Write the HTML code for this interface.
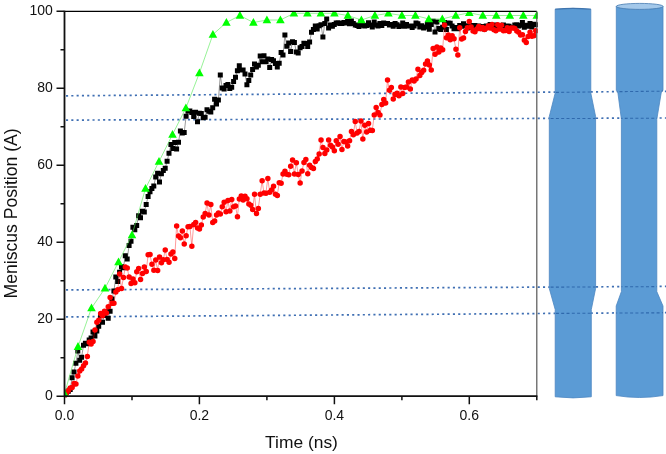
<!DOCTYPE html>
<html><head><meta charset="utf-8"><title>Meniscus Position vs Time</title>
<style>
html,body{margin:0;padding:0;background:#fff;}
body{width:666px;height:454px;overflow:hidden;font-family:"Liberation Sans",sans-serif;}
svg{display:block}
svg text{font-family:"Liberation Sans",sans-serif;fill:#111;}
</style></head><body>
<svg width="666" height="454" viewBox="0 0 666 454">
<defs><clipPath id="pc"><rect x="64.5" y="11.3" width="473.3" height="385.9"/></clipPath><clipPath id="tc"><path d="M555.2 9V93L549.3 116.5V288.5L555.2 309.5V397H591.3V309.5L595.6 288.5V116.5L590.8 93V9Z"/><path d="M616.3 6.4V90.5L621.4 119.3V291.6L616.2 306V397H663V306L656.8 291.6V119.3L663 90.5V6.4Z"/></clipPath></defs>
<rect width="666" height="454" fill="#fff"/>
<!-- dotted guide lines -->
<g fill="none" stroke="#3f6fb3" stroke-width="1.7" stroke-dasharray="2.1 3.2">
<path d="M66 95.8L666 91.3"/>
<path d="M66 120.1L666 118"/>
<path d="M66 289.9L666 286.4"/>
<path d="M66 316.9L666 312.6"/>
</g>
<!-- tubes -->
<g fill="#5b9bd5" stroke="#4d86c2" stroke-width="0.8" stroke-linejoin="round">
<path id="tubeA" d="M555.2 9.2Q573 7.6 590.8 9.2V93L595.6 116.5V288.5L591.3 309.5V396.8Q573 399 555.2 396.8V309.5L549.3 288.5V116.5L555.2 93Z"/>
<path id="tubeB" d="M616.3 6.4V90.5H617.6L621.4 119.3V291.6L616.2 306V395.6Q639.6 399.4 663 395.6V306L656.8 291.6V119.3L661.6 90.5H663V6.4Z"/>
<ellipse cx="639.7" cy="6.4" rx="23.4" ry="3" fill="#a3c8ea" stroke="#4278b0"/>
<path d="M555.2 9.2Q573 7.6 590.8 9.2" fill="none" stroke="#3f74ad" stroke-width="1.1"/>
</g>
<g fill="none" stroke="#2f69ad" stroke-width="1.1" stroke-dasharray="3 2.3" clip-path="url(#tc)">
<path d="M540 92.6L666 91.1"/>
<path d="M540 118.6L666 118.2"/>
<path d="M540 287.2L666 286.6"/>
<path d="M540 313.5L666 312.8"/>
</g>
<!-- data -->
<g clip-path="url(#pc)">
<polyline fill="none" stroke="#000" stroke-width="0.4" points="64.5,396 66.4,392.2 68.3,391.3 70.2,389.4 72.1,377.7 74,372 75.9,363.3 77.8,350.9 79.7,360.3 81.6,357.2 83.5,345.3 85.4,343.3 87.3,343.8 89.2,339.9 91.1,338 93,332.1 94.9,335.9 96.8,331.1 98.7,326.3 100.6,315.5 102.5,322.2 104.4,315.4 106.3,311.7 108.2,318.2 110.1,311.2 112,299.1 113.9,290.9 115.8,277 117.7,281.6 119.6,272.3 121.5,266.8 123.4,267.7 125.3,255.8 127.2,259 129.1,245.4 131,241.3 132.9,227.2 134.8,229.7 136.7,225.6 138.6,215.8 140.5,217.8 142.4,211.3 144.3,212 146.2,204.4 148.1,196.5 150,191.8 151.9,188.6 153.8,185.9 155.7,177.1 157.6,173.2 159.5,182.1 161.4,173.8 163.3,170.4 165.2,168.2 167.1,161.3 169,153.3 170.9,144.4 172.8,148.6 174.7,142.6 176.6,148.9 178.5,142.2 180.4,131 182.3,133.1 184.2,132.6 186.1,116.3 188,111 189.9,110.9 191.8,112.5 193.7,116.6 195.6,112.2 197.5,121.7 199.4,113.3 201.3,113.6 203.2,117.7 205.1,117.2 207,109.7 208.9,111.2 210.8,112.1 212.7,107.7 214.6,99.3 216.5,104.1 218.4,100.1 220.3,75 222.2,88.1 224.1,89.1 226,85.6 227.9,84.5 229.8,88.5 231.7,87.2 233.6,81.4 235.5,77.3 237.4,70.8 239.3,65.8 241.2,69.9 243.1,70.1 245,74 246.9,84.7 248.8,80.6 250.7,74.9 252.6,69.6 254.5,64 256.4,67.1 258.3,65.3 260.2,56 262.1,61.8 264,55.7 265.9,61.8 267.8,58.9 269.7,67.5 271.6,59.6 273.5,60.7 275.4,63.5 277.3,67 279.2,63.2 281.1,52.6 283,55.1 284.9,35 286.8,46.3 288.7,43 290.6,51.4 292.5,41.7 294.4,42.4 296.3,52.1 298.2,53 300.1,47.7 302,46.5 303.9,43.3 305.8,43.4 307.7,46.4 309.6,42.1 311.5,32.2 313.4,29.5 315.3,26 317.2,29 319.1,25.8 321,24.7 322.9,37 324.8,23.5 326.7,19 328.6,27.9 330.5,24.9 332.4,26.3 334.3,24.4 336.2,23.1 338.1,22.7 340,23.5 341.9,23.6 343.8,22.4 345.7,23.1 347.6,21.3 349.5,23.7 351.4,21 353.3,23.5 355.2,24.9 357.1,25.5 359,26.5 360.9,21.7 362.8,25.2 364.7,25.9 366.6,25.6 368.5,22.8 370.4,24.9 372.3,27.1 374.2,22.1 376.1,25.1 378,26.1 379.9,23.5 381.8,25.4 383.7,23 385.6,23.4 387.5,23.5 389.4,25 391.3,24.6 393.2,26.3 395.1,23.5 397,24.7 398.9,26.4 400.8,25.9 402.7,23.1 404.6,26.2 406.5,24.6 408.4,26 410.3,26 412.2,27.4 414.1,25.9 416,23 417.9,23.8 419.8,27.1 421.7,25.7 423.6,27.9 425.5,27 427.4,24.4 429.3,29.3 431.2,24.5 433.1,21.3 435,32.1 436.9,21.9 438.8,28.6 440.7,29.4 442.6,27.3 444.5,22.5 446.4,29.5 448.3,23.1 450.2,23.3 452.1,25.9 454,28.8 455.9,27.5 457.8,28.8 459.7,25.5 461.6,26.2 463.5,23.7 465.4,25.8 467.3,28.1 469.2,25.7 471.1,27.2 473,25.6 474.9,25.5 476.8,26.4 478.7,26.1 480.6,27.2 482.5,26.6 484.4,28.9 486.3,25.9 488.2,25.9 490.1,24.6 492,26.2 493.9,27.1 495.8,25 497.7,26 499.6,27.1 501.5,25.8 503.4,25.1 505.3,27.3 507.2,25.9 509.1,26.3 511,27.5 512.9,27.4 514.8,25.1 516.7,24.7 518.6,25.9 520.5,25.2 522.4,22.5 524.3,27.2 526.2,25.3 528.1,26.3 530,23.4 531.9,27 533.8,24.2 535.7,24.8"/>
<path fill="#000" d="M62 393.5h5v5h-5zM63.9 389.7h5v5h-5zM65.8 388.8h5v5h-5zM67.7 386.9h5v5h-5zM69.6 375.2h5v5h-5zM71.5 369.5h5v5h-5zM73.4 360.8h5v5h-5zM75.3 348.4h5v5h-5zM77.2 357.8h5v5h-5zM79.1 354.7h5v5h-5zM81 342.8h5v5h-5zM82.9 340.8h5v5h-5zM84.8 341.3h5v5h-5zM86.7 337.4h5v5h-5zM88.6 335.5h5v5h-5zM90.5 329.6h5v5h-5zM92.4 333.4h5v5h-5zM94.3 328.6h5v5h-5zM96.2 323.8h5v5h-5zM98.1 313h5v5h-5zM100 319.7h5v5h-5zM101.9 312.9h5v5h-5zM103.8 309.2h5v5h-5zM105.7 315.7h5v5h-5zM107.6 308.7h5v5h-5zM109.5 296.6h5v5h-5zM111.4 288.4h5v5h-5zM113.3 274.5h5v5h-5zM115.2 279.1h5v5h-5zM117.1 269.8h5v5h-5zM119 264.3h5v5h-5zM120.9 265.2h5v5h-5zM122.8 253.3h5v5h-5zM124.7 256.5h5v5h-5zM126.6 242.9h5v5h-5zM128.5 238.8h5v5h-5zM130.4 224.7h5v5h-5zM132.3 227.2h5v5h-5zM134.2 223.1h5v5h-5zM136.1 213.3h5v5h-5zM138 215.3h5v5h-5zM139.9 208.8h5v5h-5zM141.8 209.5h5v5h-5zM143.7 201.9h5v5h-5zM145.6 194h5v5h-5zM147.5 189.3h5v5h-5zM149.4 186.1h5v5h-5zM151.3 183.4h5v5h-5zM153.2 174.6h5v5h-5zM155.1 170.7h5v5h-5zM157 179.6h5v5h-5zM158.9 171.3h5v5h-5zM160.8 167.9h5v5h-5zM162.7 165.7h5v5h-5zM164.6 158.8h5v5h-5zM166.5 150.8h5v5h-5zM168.4 141.9h5v5h-5zM170.3 146.1h5v5h-5zM172.2 140.1h5v5h-5zM174.1 146.4h5v5h-5zM176 139.7h5v5h-5zM177.9 128.5h5v5h-5zM179.8 130.6h5v5h-5zM181.7 130.1h5v5h-5zM183.6 113.8h5v5h-5zM185.5 108.5h5v5h-5zM187.4 108.4h5v5h-5zM189.3 110h5v5h-5zM191.2 114.1h5v5h-5zM193.1 109.7h5v5h-5zM195 119.2h5v5h-5zM196.9 110.8h5v5h-5zM198.8 111.1h5v5h-5zM200.7 115.2h5v5h-5zM202.6 114.7h5v5h-5zM204.5 107.2h5v5h-5zM206.4 108.7h5v5h-5zM208.3 109.6h5v5h-5zM210.2 105.2h5v5h-5zM212.1 96.8h5v5h-5zM214 101.6h5v5h-5zM215.9 97.6h5v5h-5zM217.8 72.5h5v5h-5zM219.7 85.6h5v5h-5zM221.6 86.6h5v5h-5zM223.5 83.1h5v5h-5zM225.4 82h5v5h-5zM227.3 86h5v5h-5zM229.2 84.7h5v5h-5zM231.1 78.9h5v5h-5zM233 74.8h5v5h-5zM234.9 68.3h5v5h-5zM236.8 63.3h5v5h-5zM238.7 67.4h5v5h-5zM240.6 67.6h5v5h-5zM242.5 71.5h5v5h-5zM244.4 82.2h5v5h-5zM246.3 78.1h5v5h-5zM248.2 72.4h5v5h-5zM250.1 67.1h5v5h-5zM252 61.5h5v5h-5zM253.9 64.6h5v5h-5zM255.8 62.8h5v5h-5zM257.7 53.5h5v5h-5zM259.6 59.3h5v5h-5zM261.5 53.2h5v5h-5zM263.4 59.3h5v5h-5zM265.3 56.4h5v5h-5zM267.2 65h5v5h-5zM269.1 57.1h5v5h-5zM271 58.2h5v5h-5zM272.9 61h5v5h-5zM274.8 64.5h5v5h-5zM276.7 60.7h5v5h-5zM278.6 50.1h5v5h-5zM280.5 52.6h5v5h-5zM282.4 32.5h5v5h-5zM284.3 43.8h5v5h-5zM286.2 40.5h5v5h-5zM288.1 48.9h5v5h-5zM290 39.2h5v5h-5zM291.9 39.9h5v5h-5zM293.8 49.6h5v5h-5zM295.7 50.5h5v5h-5zM297.6 45.2h5v5h-5zM299.5 44h5v5h-5zM301.4 40.8h5v5h-5zM303.3 40.9h5v5h-5zM305.2 43.9h5v5h-5zM307.1 39.6h5v5h-5zM309 29.7h5v5h-5zM310.9 27h5v5h-5zM312.8 23.5h5v5h-5zM314.7 26.5h5v5h-5zM316.6 23.3h5v5h-5zM318.5 22.2h5v5h-5zM320.4 34.5h5v5h-5zM322.3 21h5v5h-5zM324.2 16.5h5v5h-5zM326.1 25.4h5v5h-5zM328 22.4h5v5h-5zM329.9 23.8h5v5h-5zM331.8 21.9h5v5h-5zM333.7 20.6h5v5h-5zM335.6 20.2h5v5h-5zM337.5 21h5v5h-5zM339.4 21.1h5v5h-5zM341.3 19.9h5v5h-5zM343.2 20.6h5v5h-5zM345.1 18.8h5v5h-5zM347 21.2h5v5h-5zM348.9 18.5h5v5h-5zM350.8 21h5v5h-5zM352.7 22.4h5v5h-5zM354.6 23h5v5h-5zM356.5 24h5v5h-5zM358.4 19.2h5v5h-5zM360.3 22.7h5v5h-5zM362.2 23.4h5v5h-5zM364.1 23.1h5v5h-5zM366 20.3h5v5h-5zM367.9 22.4h5v5h-5zM369.8 24.6h5v5h-5zM371.7 19.6h5v5h-5zM373.6 22.6h5v5h-5zM375.5 23.6h5v5h-5zM377.4 21h5v5h-5zM379.3 22.9h5v5h-5zM381.2 20.5h5v5h-5zM383.1 20.9h5v5h-5zM385 21h5v5h-5zM386.9 22.5h5v5h-5zM388.8 22.1h5v5h-5zM390.7 23.8h5v5h-5zM392.6 21h5v5h-5zM394.5 22.2h5v5h-5zM396.4 23.9h5v5h-5zM398.3 23.4h5v5h-5zM400.2 20.6h5v5h-5zM402.1 23.7h5v5h-5zM404 22.1h5v5h-5zM405.9 23.5h5v5h-5zM407.8 23.5h5v5h-5zM409.7 24.9h5v5h-5zM411.6 23.4h5v5h-5zM413.5 20.5h5v5h-5zM415.4 21.3h5v5h-5zM417.3 24.6h5v5h-5zM419.2 23.2h5v5h-5zM421.1 25.4h5v5h-5zM423 24.5h5v5h-5zM424.9 21.9h5v5h-5zM426.8 26.8h5v5h-5zM428.7 22h5v5h-5zM430.6 18.8h5v5h-5zM432.5 29.6h5v5h-5zM434.4 19.4h5v5h-5zM436.3 26.1h5v5h-5zM438.2 26.9h5v5h-5zM440.1 24.8h5v5h-5zM442 20h5v5h-5zM443.9 27h5v5h-5zM445.8 20.6h5v5h-5zM447.7 20.8h5v5h-5zM449.6 23.4h5v5h-5zM451.5 26.3h5v5h-5zM453.4 25h5v5h-5zM455.3 26.3h5v5h-5zM457.2 23h5v5h-5zM459.1 23.7h5v5h-5zM461 21.2h5v5h-5zM462.9 23.3h5v5h-5zM464.8 25.6h5v5h-5zM466.7 23.2h5v5h-5zM468.6 24.7h5v5h-5zM470.5 23.1h5v5h-5zM472.4 23h5v5h-5zM474.3 23.9h5v5h-5zM476.2 23.6h5v5h-5zM478.1 24.7h5v5h-5zM480 24.1h5v5h-5zM481.9 26.4h5v5h-5zM483.8 23.4h5v5h-5zM485.7 23.4h5v5h-5zM487.6 22.1h5v5h-5zM489.5 23.7h5v5h-5zM491.4 24.6h5v5h-5zM493.3 22.5h5v5h-5zM495.2 23.5h5v5h-5zM497.1 24.6h5v5h-5zM499 23.3h5v5h-5zM500.9 22.6h5v5h-5zM502.8 24.8h5v5h-5zM504.7 23.4h5v5h-5zM506.6 23.8h5v5h-5zM508.5 25h5v5h-5zM510.4 24.9h5v5h-5zM512.3 22.6h5v5h-5zM514.2 22.2h5v5h-5zM516.1 23.4h5v5h-5zM518 22.7h5v5h-5zM519.9 20h5v5h-5zM521.8 24.7h5v5h-5zM523.7 22.8h5v5h-5zM525.6 23.8h5v5h-5zM527.5 20.9h5v5h-5zM529.4 24.5h5v5h-5zM531.3 21.7h5v5h-5zM533.2 22.3h5v5h-5z"/>
<polyline fill="none" stroke="#f00" stroke-width="0.4" points="64.5,396 66.4,393 68.3,390.4 70.2,388.1 72.1,387.6 74,383.6 75.9,384 77.8,375.9 79.7,371 81.6,369.1 83.5,365.7 85.4,362.9 87.3,356.6 89.2,342.2 91.1,344 93,341.6 94.9,330.1 96.8,322.2 98.7,320.3 100.6,313.6 102.5,315.7 104.4,311.3 106.3,313 108.2,306.7 110.1,297.5 112,303.3 113.9,303.2 115.8,292 117.7,289.8 119.6,273.9 121.5,288.6 123.4,277.5 125.3,267.1 127.2,267.9 129.1,277 131,283.4 132.9,278.9 134.8,282.8 136.7,271.7 138.6,268.4 140.5,279.4 142.4,273.6 144.3,267.1 146.2,271.5 148.1,254.7 150,254.5 151.9,264.3 153.8,270.3 155.7,260.1 157.6,270.4 159.5,256.9 161.4,262.8 163.3,259.7 165.2,249.9 167.1,259.6 169,262.3 170.9,254 172.8,252.1 174.7,258.5 176.6,226 178.5,236.1 180.4,237.8 182.3,231.1 184.2,243.9 186.1,235.8 188,226.8 189.9,226.4 191.8,246.3 193.7,224.5 195.6,222.6 197.5,228.1 199.4,228.9 201.3,225.1 203.2,217.1 205.1,213.6 207,203 208.9,215.1 210.8,204.6 212.7,222.4 214.6,221 216.5,215.1 218.4,213 220.3,214.1 222.2,206.8 224.1,202.3 226,211.7 227.9,200.6 229.8,210.9 231.7,199.4 233.6,206.8 235.5,206 237.4,216.7 239.3,198.9 241.2,196 243.1,199.9 245,196.3 246.9,198.7 248.8,204 250.7,205.3 252.6,209.6 254.5,194.2 256.4,213.4 258.3,208.5 260.2,194.3 262.1,180.8 264,193 265.9,193.2 267.8,178.5 269.7,192.3 271.6,190.1 273.5,186.2 275.4,194.2 277.3,195.4 279.2,182.7 281.1,183.2 283,174.1 284.9,171.2 286.8,174.3 288.7,174.8 290.6,166.2 292.5,160 294.4,173.9 296.3,162.7 298.2,174.6 300.1,183.1 302,170.9 303.9,162.4 305.8,159.4 307.7,173.7 309.6,165.2 311.5,167.4 313.4,168.6 315.3,161.6 317.2,158.9 319.1,154 321,140.1 322.9,147.5 324.8,153.4 326.7,149.9 328.6,140 330.5,145.2 332.4,147 334.3,150.7 336.2,140.7 338.1,144.3 340,136.4 341.9,149.5 343.8,141.6 345.7,141.9 347.6,145.9 349.5,140.8 351.4,131.6 353.3,134.8 355.2,121.6 357.1,133 359,131.4 360.9,121.1 362.8,139 364.7,125.2 366.6,131.9 368.5,123.5 370.4,130.3 372.3,130.5 374.2,114.9 376.1,107.4 378,112.5 379.9,115 381.8,104.4 383.7,99.6 385.6,102.9 387.5,80.1 389.4,90.3 391.3,87.4 393.2,98.9 395.1,94.2 397,93.3 398.9,95.8 400.8,87 402.7,93.6 404.6,87.5 406.5,87 408.4,82.1 410.3,89 412.2,80 414.1,81 416,78.9 417.9,69.3 419.8,75.6 421.7,72.4 423.6,70.3 425.5,64.1 427.4,61 429.3,64.9 431.2,70 433.1,48.6 435,54.2 436.9,46.9 438.8,51.9 440.7,47.9 442.6,49.8 444.5,25.1 446.4,37.8 448.3,35 450.2,39.8 452.1,35.8 454,38.8 455.9,49.3 457.8,55 459.7,27.7 461.6,38.9 463.5,38.1 465.4,31.5 467.3,27.8 469.2,21.5 471.1,27 473,31.1 474.9,31.8 476.8,29.1 478.7,26.5 480.6,28.7 482.5,27.6 484.4,29.5 486.3,28.2 488.2,26.1 490.1,28 492,24.5 493.9,29.8 495.8,30.8 497.7,24.7 499.6,28.9 501.5,25.3 503.4,30.7 505.3,30.4 507.2,27.8 509.1,31.4 511,28.1 512.9,27.9 514.8,28.5 516.7,31.1 518.6,32.2 520.5,35 522.4,34.8 524.3,40.3 526.2,42.5 528.1,36.6 530,32.3 531.9,36.2 533.8,35.7 535.7,30.8"/>
<path fill="#f00" d="M61.8 396a2.75 2.75 0 1 0 5.5 0a2.75 2.75 0 1 0 -5.5 0zM63.7 393a2.75 2.75 0 1 0 5.5 0a2.75 2.75 0 1 0 -5.5 0zM65.6 390.4a2.75 2.75 0 1 0 5.5 0a2.75 2.75 0 1 0 -5.5 0zM67.5 388.1a2.75 2.75 0 1 0 5.5 0a2.75 2.75 0 1 0 -5.5 0zM69.4 387.6a2.75 2.75 0 1 0 5.5 0a2.75 2.75 0 1 0 -5.5 0zM71.3 383.6a2.75 2.75 0 1 0 5.5 0a2.75 2.75 0 1 0 -5.5 0zM73.2 384a2.75 2.75 0 1 0 5.5 0a2.75 2.75 0 1 0 -5.5 0zM75.1 375.9a2.75 2.75 0 1 0 5.5 0a2.75 2.75 0 1 0 -5.5 0zM77 371a2.75 2.75 0 1 0 5.5 0a2.75 2.75 0 1 0 -5.5 0zM78.9 369.1a2.75 2.75 0 1 0 5.5 0a2.75 2.75 0 1 0 -5.5 0zM80.8 365.7a2.75 2.75 0 1 0 5.5 0a2.75 2.75 0 1 0 -5.5 0zM82.7 362.9a2.75 2.75 0 1 0 5.5 0a2.75 2.75 0 1 0 -5.5 0zM84.6 356.6a2.75 2.75 0 1 0 5.5 0a2.75 2.75 0 1 0 -5.5 0zM86.5 342.2a2.75 2.75 0 1 0 5.5 0a2.75 2.75 0 1 0 -5.5 0zM88.4 344a2.75 2.75 0 1 0 5.5 0a2.75 2.75 0 1 0 -5.5 0zM90.3 341.6a2.75 2.75 0 1 0 5.5 0a2.75 2.75 0 1 0 -5.5 0zM92.2 330.1a2.75 2.75 0 1 0 5.5 0a2.75 2.75 0 1 0 -5.5 0zM94.1 322.2a2.75 2.75 0 1 0 5.5 0a2.75 2.75 0 1 0 -5.5 0zM96 320.3a2.75 2.75 0 1 0 5.5 0a2.75 2.75 0 1 0 -5.5 0zM97.9 313.6a2.75 2.75 0 1 0 5.5 0a2.75 2.75 0 1 0 -5.5 0zM99.8 315.7a2.75 2.75 0 1 0 5.5 0a2.75 2.75 0 1 0 -5.5 0zM101.7 311.3a2.75 2.75 0 1 0 5.5 0a2.75 2.75 0 1 0 -5.5 0zM103.6 313a2.75 2.75 0 1 0 5.5 0a2.75 2.75 0 1 0 -5.5 0zM105.5 306.7a2.75 2.75 0 1 0 5.5 0a2.75 2.75 0 1 0 -5.5 0zM107.4 297.5a2.75 2.75 0 1 0 5.5 0a2.75 2.75 0 1 0 -5.5 0zM109.3 303.3a2.75 2.75 0 1 0 5.5 0a2.75 2.75 0 1 0 -5.5 0zM111.2 303.2a2.75 2.75 0 1 0 5.5 0a2.75 2.75 0 1 0 -5.5 0zM113.1 292a2.75 2.75 0 1 0 5.5 0a2.75 2.75 0 1 0 -5.5 0zM115 289.8a2.75 2.75 0 1 0 5.5 0a2.75 2.75 0 1 0 -5.5 0zM116.9 273.9a2.75 2.75 0 1 0 5.5 0a2.75 2.75 0 1 0 -5.5 0zM118.8 288.6a2.75 2.75 0 1 0 5.5 0a2.75 2.75 0 1 0 -5.5 0zM120.7 277.5a2.75 2.75 0 1 0 5.5 0a2.75 2.75 0 1 0 -5.5 0zM122.6 267.1a2.75 2.75 0 1 0 5.5 0a2.75 2.75 0 1 0 -5.5 0zM124.5 267.9a2.75 2.75 0 1 0 5.5 0a2.75 2.75 0 1 0 -5.5 0zM126.4 277a2.75 2.75 0 1 0 5.5 0a2.75 2.75 0 1 0 -5.5 0zM128.3 283.4a2.75 2.75 0 1 0 5.5 0a2.75 2.75 0 1 0 -5.5 0zM130.2 278.9a2.75 2.75 0 1 0 5.5 0a2.75 2.75 0 1 0 -5.5 0zM132.1 282.8a2.75 2.75 0 1 0 5.5 0a2.75 2.75 0 1 0 -5.5 0zM134 271.7a2.75 2.75 0 1 0 5.5 0a2.75 2.75 0 1 0 -5.5 0zM135.9 268.4a2.75 2.75 0 1 0 5.5 0a2.75 2.75 0 1 0 -5.5 0zM137.8 279.4a2.75 2.75 0 1 0 5.5 0a2.75 2.75 0 1 0 -5.5 0zM139.7 273.6a2.75 2.75 0 1 0 5.5 0a2.75 2.75 0 1 0 -5.5 0zM141.6 267.1a2.75 2.75 0 1 0 5.5 0a2.75 2.75 0 1 0 -5.5 0zM143.5 271.5a2.75 2.75 0 1 0 5.5 0a2.75 2.75 0 1 0 -5.5 0zM145.4 254.7a2.75 2.75 0 1 0 5.5 0a2.75 2.75 0 1 0 -5.5 0zM147.3 254.5a2.75 2.75 0 1 0 5.5 0a2.75 2.75 0 1 0 -5.5 0zM149.2 264.3a2.75 2.75 0 1 0 5.5 0a2.75 2.75 0 1 0 -5.5 0zM151.1 270.3a2.75 2.75 0 1 0 5.5 0a2.75 2.75 0 1 0 -5.5 0zM153 260.1a2.75 2.75 0 1 0 5.5 0a2.75 2.75 0 1 0 -5.5 0zM154.9 270.4a2.75 2.75 0 1 0 5.5 0a2.75 2.75 0 1 0 -5.5 0zM156.8 256.9a2.75 2.75 0 1 0 5.5 0a2.75 2.75 0 1 0 -5.5 0zM158.7 262.8a2.75 2.75 0 1 0 5.5 0a2.75 2.75 0 1 0 -5.5 0zM160.6 259.7a2.75 2.75 0 1 0 5.5 0a2.75 2.75 0 1 0 -5.5 0zM162.5 249.9a2.75 2.75 0 1 0 5.5 0a2.75 2.75 0 1 0 -5.5 0zM164.4 259.6a2.75 2.75 0 1 0 5.5 0a2.75 2.75 0 1 0 -5.5 0zM166.3 262.3a2.75 2.75 0 1 0 5.5 0a2.75 2.75 0 1 0 -5.5 0zM168.2 254a2.75 2.75 0 1 0 5.5 0a2.75 2.75 0 1 0 -5.5 0zM170.1 252.1a2.75 2.75 0 1 0 5.5 0a2.75 2.75 0 1 0 -5.5 0zM172 258.5a2.75 2.75 0 1 0 5.5 0a2.75 2.75 0 1 0 -5.5 0zM173.9 226a2.75 2.75 0 1 0 5.5 0a2.75 2.75 0 1 0 -5.5 0zM175.8 236.1a2.75 2.75 0 1 0 5.5 0a2.75 2.75 0 1 0 -5.5 0zM177.7 237.8a2.75 2.75 0 1 0 5.5 0a2.75 2.75 0 1 0 -5.5 0zM179.6 231.1a2.75 2.75 0 1 0 5.5 0a2.75 2.75 0 1 0 -5.5 0zM181.5 243.9a2.75 2.75 0 1 0 5.5 0a2.75 2.75 0 1 0 -5.5 0zM183.4 235.8a2.75 2.75 0 1 0 5.5 0a2.75 2.75 0 1 0 -5.5 0zM185.3 226.8a2.75 2.75 0 1 0 5.5 0a2.75 2.75 0 1 0 -5.5 0zM187.2 226.4a2.75 2.75 0 1 0 5.5 0a2.75 2.75 0 1 0 -5.5 0zM189.1 246.3a2.75 2.75 0 1 0 5.5 0a2.75 2.75 0 1 0 -5.5 0zM191 224.5a2.75 2.75 0 1 0 5.5 0a2.75 2.75 0 1 0 -5.5 0zM192.9 222.6a2.75 2.75 0 1 0 5.5 0a2.75 2.75 0 1 0 -5.5 0zM194.8 228.1a2.75 2.75 0 1 0 5.5 0a2.75 2.75 0 1 0 -5.5 0zM196.7 228.9a2.75 2.75 0 1 0 5.5 0a2.75 2.75 0 1 0 -5.5 0zM198.6 225.1a2.75 2.75 0 1 0 5.5 0a2.75 2.75 0 1 0 -5.5 0zM200.5 217.1a2.75 2.75 0 1 0 5.5 0a2.75 2.75 0 1 0 -5.5 0zM202.4 213.6a2.75 2.75 0 1 0 5.5 0a2.75 2.75 0 1 0 -5.5 0zM204.3 203a2.75 2.75 0 1 0 5.5 0a2.75 2.75 0 1 0 -5.5 0zM206.2 215.1a2.75 2.75 0 1 0 5.5 0a2.75 2.75 0 1 0 -5.5 0zM208.1 204.6a2.75 2.75 0 1 0 5.5 0a2.75 2.75 0 1 0 -5.5 0zM210 222.4a2.75 2.75 0 1 0 5.5 0a2.75 2.75 0 1 0 -5.5 0zM211.9 221a2.75 2.75 0 1 0 5.5 0a2.75 2.75 0 1 0 -5.5 0zM213.8 215.1a2.75 2.75 0 1 0 5.5 0a2.75 2.75 0 1 0 -5.5 0zM215.7 213a2.75 2.75 0 1 0 5.5 0a2.75 2.75 0 1 0 -5.5 0zM217.6 214.1a2.75 2.75 0 1 0 5.5 0a2.75 2.75 0 1 0 -5.5 0zM219.5 206.8a2.75 2.75 0 1 0 5.5 0a2.75 2.75 0 1 0 -5.5 0zM221.4 202.3a2.75 2.75 0 1 0 5.5 0a2.75 2.75 0 1 0 -5.5 0zM223.3 211.7a2.75 2.75 0 1 0 5.5 0a2.75 2.75 0 1 0 -5.5 0zM225.2 200.6a2.75 2.75 0 1 0 5.5 0a2.75 2.75 0 1 0 -5.5 0zM227.1 210.9a2.75 2.75 0 1 0 5.5 0a2.75 2.75 0 1 0 -5.5 0zM229 199.4a2.75 2.75 0 1 0 5.5 0a2.75 2.75 0 1 0 -5.5 0zM230.9 206.8a2.75 2.75 0 1 0 5.5 0a2.75 2.75 0 1 0 -5.5 0zM232.8 206a2.75 2.75 0 1 0 5.5 0a2.75 2.75 0 1 0 -5.5 0zM234.7 216.7a2.75 2.75 0 1 0 5.5 0a2.75 2.75 0 1 0 -5.5 0zM236.6 198.9a2.75 2.75 0 1 0 5.5 0a2.75 2.75 0 1 0 -5.5 0zM238.5 196a2.75 2.75 0 1 0 5.5 0a2.75 2.75 0 1 0 -5.5 0zM240.4 199.9a2.75 2.75 0 1 0 5.5 0a2.75 2.75 0 1 0 -5.5 0zM242.3 196.3a2.75 2.75 0 1 0 5.5 0a2.75 2.75 0 1 0 -5.5 0zM244.2 198.7a2.75 2.75 0 1 0 5.5 0a2.75 2.75 0 1 0 -5.5 0zM246.1 204a2.75 2.75 0 1 0 5.5 0a2.75 2.75 0 1 0 -5.5 0zM248 205.3a2.75 2.75 0 1 0 5.5 0a2.75 2.75 0 1 0 -5.5 0zM249.9 209.6a2.75 2.75 0 1 0 5.5 0a2.75 2.75 0 1 0 -5.5 0zM251.8 194.2a2.75 2.75 0 1 0 5.5 0a2.75 2.75 0 1 0 -5.5 0zM253.7 213.4a2.75 2.75 0 1 0 5.5 0a2.75 2.75 0 1 0 -5.5 0zM255.6 208.5a2.75 2.75 0 1 0 5.5 0a2.75 2.75 0 1 0 -5.5 0zM257.5 194.3a2.75 2.75 0 1 0 5.5 0a2.75 2.75 0 1 0 -5.5 0zM259.4 180.8a2.75 2.75 0 1 0 5.5 0a2.75 2.75 0 1 0 -5.5 0zM261.3 193a2.75 2.75 0 1 0 5.5 0a2.75 2.75 0 1 0 -5.5 0zM263.2 193.2a2.75 2.75 0 1 0 5.5 0a2.75 2.75 0 1 0 -5.5 0zM265.1 178.5a2.75 2.75 0 1 0 5.5 0a2.75 2.75 0 1 0 -5.5 0zM267 192.3a2.75 2.75 0 1 0 5.5 0a2.75 2.75 0 1 0 -5.5 0zM268.9 190.1a2.75 2.75 0 1 0 5.5 0a2.75 2.75 0 1 0 -5.5 0zM270.8 186.2a2.75 2.75 0 1 0 5.5 0a2.75 2.75 0 1 0 -5.5 0zM272.7 194.2a2.75 2.75 0 1 0 5.5 0a2.75 2.75 0 1 0 -5.5 0zM274.6 195.4a2.75 2.75 0 1 0 5.5 0a2.75 2.75 0 1 0 -5.5 0zM276.5 182.7a2.75 2.75 0 1 0 5.5 0a2.75 2.75 0 1 0 -5.5 0zM278.4 183.2a2.75 2.75 0 1 0 5.5 0a2.75 2.75 0 1 0 -5.5 0zM280.3 174.1a2.75 2.75 0 1 0 5.5 0a2.75 2.75 0 1 0 -5.5 0zM282.2 171.2a2.75 2.75 0 1 0 5.5 0a2.75 2.75 0 1 0 -5.5 0zM284.1 174.3a2.75 2.75 0 1 0 5.5 0a2.75 2.75 0 1 0 -5.5 0zM286 174.8a2.75 2.75 0 1 0 5.5 0a2.75 2.75 0 1 0 -5.5 0zM287.9 166.2a2.75 2.75 0 1 0 5.5 0a2.75 2.75 0 1 0 -5.5 0zM289.8 160a2.75 2.75 0 1 0 5.5 0a2.75 2.75 0 1 0 -5.5 0zM291.7 173.9a2.75 2.75 0 1 0 5.5 0a2.75 2.75 0 1 0 -5.5 0zM293.6 162.7a2.75 2.75 0 1 0 5.5 0a2.75 2.75 0 1 0 -5.5 0zM295.5 174.6a2.75 2.75 0 1 0 5.5 0a2.75 2.75 0 1 0 -5.5 0zM297.4 183.1a2.75 2.75 0 1 0 5.5 0a2.75 2.75 0 1 0 -5.5 0zM299.3 170.9a2.75 2.75 0 1 0 5.5 0a2.75 2.75 0 1 0 -5.5 0zM301.2 162.4a2.75 2.75 0 1 0 5.5 0a2.75 2.75 0 1 0 -5.5 0zM303.1 159.4a2.75 2.75 0 1 0 5.5 0a2.75 2.75 0 1 0 -5.5 0zM305 173.7a2.75 2.75 0 1 0 5.5 0a2.75 2.75 0 1 0 -5.5 0zM306.9 165.2a2.75 2.75 0 1 0 5.5 0a2.75 2.75 0 1 0 -5.5 0zM308.8 167.4a2.75 2.75 0 1 0 5.5 0a2.75 2.75 0 1 0 -5.5 0zM310.7 168.6a2.75 2.75 0 1 0 5.5 0a2.75 2.75 0 1 0 -5.5 0zM312.6 161.6a2.75 2.75 0 1 0 5.5 0a2.75 2.75 0 1 0 -5.5 0zM314.5 158.9a2.75 2.75 0 1 0 5.5 0a2.75 2.75 0 1 0 -5.5 0zM316.4 154a2.75 2.75 0 1 0 5.5 0a2.75 2.75 0 1 0 -5.5 0zM318.3 140.1a2.75 2.75 0 1 0 5.5 0a2.75 2.75 0 1 0 -5.5 0zM320.2 147.5a2.75 2.75 0 1 0 5.5 0a2.75 2.75 0 1 0 -5.5 0zM322.1 153.4a2.75 2.75 0 1 0 5.5 0a2.75 2.75 0 1 0 -5.5 0zM324 149.9a2.75 2.75 0 1 0 5.5 0a2.75 2.75 0 1 0 -5.5 0zM325.9 140a2.75 2.75 0 1 0 5.5 0a2.75 2.75 0 1 0 -5.5 0zM327.8 145.2a2.75 2.75 0 1 0 5.5 0a2.75 2.75 0 1 0 -5.5 0zM329.7 147a2.75 2.75 0 1 0 5.5 0a2.75 2.75 0 1 0 -5.5 0zM331.6 150.7a2.75 2.75 0 1 0 5.5 0a2.75 2.75 0 1 0 -5.5 0zM333.5 140.7a2.75 2.75 0 1 0 5.5 0a2.75 2.75 0 1 0 -5.5 0zM335.4 144.3a2.75 2.75 0 1 0 5.5 0a2.75 2.75 0 1 0 -5.5 0zM337.3 136.4a2.75 2.75 0 1 0 5.5 0a2.75 2.75 0 1 0 -5.5 0zM339.2 149.5a2.75 2.75 0 1 0 5.5 0a2.75 2.75 0 1 0 -5.5 0zM341.1 141.6a2.75 2.75 0 1 0 5.5 0a2.75 2.75 0 1 0 -5.5 0zM343 141.9a2.75 2.75 0 1 0 5.5 0a2.75 2.75 0 1 0 -5.5 0zM344.9 145.9a2.75 2.75 0 1 0 5.5 0a2.75 2.75 0 1 0 -5.5 0zM346.8 140.8a2.75 2.75 0 1 0 5.5 0a2.75 2.75 0 1 0 -5.5 0zM348.7 131.6a2.75 2.75 0 1 0 5.5 0a2.75 2.75 0 1 0 -5.5 0zM350.6 134.8a2.75 2.75 0 1 0 5.5 0a2.75 2.75 0 1 0 -5.5 0zM352.5 121.6a2.75 2.75 0 1 0 5.5 0a2.75 2.75 0 1 0 -5.5 0zM354.4 133a2.75 2.75 0 1 0 5.5 0a2.75 2.75 0 1 0 -5.5 0zM356.3 131.4a2.75 2.75 0 1 0 5.5 0a2.75 2.75 0 1 0 -5.5 0zM358.2 121.1a2.75 2.75 0 1 0 5.5 0a2.75 2.75 0 1 0 -5.5 0zM360.1 139a2.75 2.75 0 1 0 5.5 0a2.75 2.75 0 1 0 -5.5 0zM362 125.2a2.75 2.75 0 1 0 5.5 0a2.75 2.75 0 1 0 -5.5 0zM363.9 131.9a2.75 2.75 0 1 0 5.5 0a2.75 2.75 0 1 0 -5.5 0zM365.8 123.5a2.75 2.75 0 1 0 5.5 0a2.75 2.75 0 1 0 -5.5 0zM367.7 130.3a2.75 2.75 0 1 0 5.5 0a2.75 2.75 0 1 0 -5.5 0zM369.6 130.5a2.75 2.75 0 1 0 5.5 0a2.75 2.75 0 1 0 -5.5 0zM371.5 114.9a2.75 2.75 0 1 0 5.5 0a2.75 2.75 0 1 0 -5.5 0zM373.4 107.4a2.75 2.75 0 1 0 5.5 0a2.75 2.75 0 1 0 -5.5 0zM375.3 112.5a2.75 2.75 0 1 0 5.5 0a2.75 2.75 0 1 0 -5.5 0zM377.2 115a2.75 2.75 0 1 0 5.5 0a2.75 2.75 0 1 0 -5.5 0zM379.1 104.4a2.75 2.75 0 1 0 5.5 0a2.75 2.75 0 1 0 -5.5 0zM381 99.6a2.75 2.75 0 1 0 5.5 0a2.75 2.75 0 1 0 -5.5 0zM382.9 102.9a2.75 2.75 0 1 0 5.5 0a2.75 2.75 0 1 0 -5.5 0zM384.8 80.1a2.75 2.75 0 1 0 5.5 0a2.75 2.75 0 1 0 -5.5 0zM386.7 90.3a2.75 2.75 0 1 0 5.5 0a2.75 2.75 0 1 0 -5.5 0zM388.6 87.4a2.75 2.75 0 1 0 5.5 0a2.75 2.75 0 1 0 -5.5 0zM390.5 98.9a2.75 2.75 0 1 0 5.5 0a2.75 2.75 0 1 0 -5.5 0zM392.4 94.2a2.75 2.75 0 1 0 5.5 0a2.75 2.75 0 1 0 -5.5 0zM394.3 93.3a2.75 2.75 0 1 0 5.5 0a2.75 2.75 0 1 0 -5.5 0zM396.2 95.8a2.75 2.75 0 1 0 5.5 0a2.75 2.75 0 1 0 -5.5 0zM398.1 87a2.75 2.75 0 1 0 5.5 0a2.75 2.75 0 1 0 -5.5 0zM400 93.6a2.75 2.75 0 1 0 5.5 0a2.75 2.75 0 1 0 -5.5 0zM401.9 87.5a2.75 2.75 0 1 0 5.5 0a2.75 2.75 0 1 0 -5.5 0zM403.8 87a2.75 2.75 0 1 0 5.5 0a2.75 2.75 0 1 0 -5.5 0zM405.7 82.1a2.75 2.75 0 1 0 5.5 0a2.75 2.75 0 1 0 -5.5 0zM407.6 89a2.75 2.75 0 1 0 5.5 0a2.75 2.75 0 1 0 -5.5 0zM409.5 80a2.75 2.75 0 1 0 5.5 0a2.75 2.75 0 1 0 -5.5 0zM411.4 81a2.75 2.75 0 1 0 5.5 0a2.75 2.75 0 1 0 -5.5 0zM413.3 78.9a2.75 2.75 0 1 0 5.5 0a2.75 2.75 0 1 0 -5.5 0zM415.2 69.3a2.75 2.75 0 1 0 5.5 0a2.75 2.75 0 1 0 -5.5 0zM417.1 75.6a2.75 2.75 0 1 0 5.5 0a2.75 2.75 0 1 0 -5.5 0zM419 72.4a2.75 2.75 0 1 0 5.5 0a2.75 2.75 0 1 0 -5.5 0zM420.9 70.3a2.75 2.75 0 1 0 5.5 0a2.75 2.75 0 1 0 -5.5 0zM422.8 64.1a2.75 2.75 0 1 0 5.5 0a2.75 2.75 0 1 0 -5.5 0zM424.7 61a2.75 2.75 0 1 0 5.5 0a2.75 2.75 0 1 0 -5.5 0zM426.6 64.9a2.75 2.75 0 1 0 5.5 0a2.75 2.75 0 1 0 -5.5 0zM428.5 70a2.75 2.75 0 1 0 5.5 0a2.75 2.75 0 1 0 -5.5 0zM430.4 48.6a2.75 2.75 0 1 0 5.5 0a2.75 2.75 0 1 0 -5.5 0zM432.3 54.2a2.75 2.75 0 1 0 5.5 0a2.75 2.75 0 1 0 -5.5 0zM434.2 46.9a2.75 2.75 0 1 0 5.5 0a2.75 2.75 0 1 0 -5.5 0zM436.1 51.9a2.75 2.75 0 1 0 5.5 0a2.75 2.75 0 1 0 -5.5 0zM438 47.9a2.75 2.75 0 1 0 5.5 0a2.75 2.75 0 1 0 -5.5 0zM439.9 49.8a2.75 2.75 0 1 0 5.5 0a2.75 2.75 0 1 0 -5.5 0zM441.8 25.1a2.75 2.75 0 1 0 5.5 0a2.75 2.75 0 1 0 -5.5 0zM443.7 37.8a2.75 2.75 0 1 0 5.5 0a2.75 2.75 0 1 0 -5.5 0zM445.6 35a2.75 2.75 0 1 0 5.5 0a2.75 2.75 0 1 0 -5.5 0zM447.5 39.8a2.75 2.75 0 1 0 5.5 0a2.75 2.75 0 1 0 -5.5 0zM449.4 35.8a2.75 2.75 0 1 0 5.5 0a2.75 2.75 0 1 0 -5.5 0zM451.3 38.8a2.75 2.75 0 1 0 5.5 0a2.75 2.75 0 1 0 -5.5 0zM453.2 49.3a2.75 2.75 0 1 0 5.5 0a2.75 2.75 0 1 0 -5.5 0zM455.1 55a2.75 2.75 0 1 0 5.5 0a2.75 2.75 0 1 0 -5.5 0zM457 27.7a2.75 2.75 0 1 0 5.5 0a2.75 2.75 0 1 0 -5.5 0zM458.9 38.9a2.75 2.75 0 1 0 5.5 0a2.75 2.75 0 1 0 -5.5 0zM460.8 38.1a2.75 2.75 0 1 0 5.5 0a2.75 2.75 0 1 0 -5.5 0zM462.7 31.5a2.75 2.75 0 1 0 5.5 0a2.75 2.75 0 1 0 -5.5 0zM464.6 27.8a2.75 2.75 0 1 0 5.5 0a2.75 2.75 0 1 0 -5.5 0zM466.5 21.5a2.75 2.75 0 1 0 5.5 0a2.75 2.75 0 1 0 -5.5 0zM468.4 27a2.75 2.75 0 1 0 5.5 0a2.75 2.75 0 1 0 -5.5 0zM470.3 31.1a2.75 2.75 0 1 0 5.5 0a2.75 2.75 0 1 0 -5.5 0zM472.2 31.8a2.75 2.75 0 1 0 5.5 0a2.75 2.75 0 1 0 -5.5 0zM474.1 29.1a2.75 2.75 0 1 0 5.5 0a2.75 2.75 0 1 0 -5.5 0zM476 26.5a2.75 2.75 0 1 0 5.5 0a2.75 2.75 0 1 0 -5.5 0zM477.9 28.7a2.75 2.75 0 1 0 5.5 0a2.75 2.75 0 1 0 -5.5 0zM479.8 27.6a2.75 2.75 0 1 0 5.5 0a2.75 2.75 0 1 0 -5.5 0zM481.7 29.5a2.75 2.75 0 1 0 5.5 0a2.75 2.75 0 1 0 -5.5 0zM483.6 28.2a2.75 2.75 0 1 0 5.5 0a2.75 2.75 0 1 0 -5.5 0zM485.5 26.1a2.75 2.75 0 1 0 5.5 0a2.75 2.75 0 1 0 -5.5 0zM487.4 28a2.75 2.75 0 1 0 5.5 0a2.75 2.75 0 1 0 -5.5 0zM489.3 24.5a2.75 2.75 0 1 0 5.5 0a2.75 2.75 0 1 0 -5.5 0zM491.2 29.8a2.75 2.75 0 1 0 5.5 0a2.75 2.75 0 1 0 -5.5 0zM493.1 30.8a2.75 2.75 0 1 0 5.5 0a2.75 2.75 0 1 0 -5.5 0zM495 24.7a2.75 2.75 0 1 0 5.5 0a2.75 2.75 0 1 0 -5.5 0zM496.9 28.9a2.75 2.75 0 1 0 5.5 0a2.75 2.75 0 1 0 -5.5 0zM498.8 25.3a2.75 2.75 0 1 0 5.5 0a2.75 2.75 0 1 0 -5.5 0zM500.7 30.7a2.75 2.75 0 1 0 5.5 0a2.75 2.75 0 1 0 -5.5 0zM502.6 30.4a2.75 2.75 0 1 0 5.5 0a2.75 2.75 0 1 0 -5.5 0zM504.5 27.8a2.75 2.75 0 1 0 5.5 0a2.75 2.75 0 1 0 -5.5 0zM506.4 31.4a2.75 2.75 0 1 0 5.5 0a2.75 2.75 0 1 0 -5.5 0zM508.3 28.1a2.75 2.75 0 1 0 5.5 0a2.75 2.75 0 1 0 -5.5 0zM510.2 27.9a2.75 2.75 0 1 0 5.5 0a2.75 2.75 0 1 0 -5.5 0zM512.1 28.5a2.75 2.75 0 1 0 5.5 0a2.75 2.75 0 1 0 -5.5 0zM514 31.1a2.75 2.75 0 1 0 5.5 0a2.75 2.75 0 1 0 -5.5 0zM515.9 32.2a2.75 2.75 0 1 0 5.5 0a2.75 2.75 0 1 0 -5.5 0zM517.8 35a2.75 2.75 0 1 0 5.5 0a2.75 2.75 0 1 0 -5.5 0zM519.7 34.8a2.75 2.75 0 1 0 5.5 0a2.75 2.75 0 1 0 -5.5 0zM521.6 40.3a2.75 2.75 0 1 0 5.5 0a2.75 2.75 0 1 0 -5.5 0zM523.5 42.5a2.75 2.75 0 1 0 5.5 0a2.75 2.75 0 1 0 -5.5 0zM525.4 36.6a2.75 2.75 0 1 0 5.5 0a2.75 2.75 0 1 0 -5.5 0zM527.3 32.3a2.75 2.75 0 1 0 5.5 0a2.75 2.75 0 1 0 -5.5 0zM529.2 36.2a2.75 2.75 0 1 0 5.5 0a2.75 2.75 0 1 0 -5.5 0zM531.1 35.7a2.75 2.75 0 1 0 5.5 0a2.75 2.75 0 1 0 -5.5 0zM533 30.8a2.75 2.75 0 1 0 5.5 0a2.75 2.75 0 1 0 -5.5 0z"/>
<polyline fill="none" stroke="#50ea50" stroke-width="0.6" points="64.5,393.6 78,346.7 91.5,308 105,288.3 118.5,262 132,235 145.5,188.5 159,161.5 172.5,134.5 185.9,108 199.4,73 212.9,34.5 226.4,22.5 239.9,15.5 253.4,22.5 266.9,20 280.4,20 293.9,13.3 307.4,13.3 320.9,13.3 334.4,13.3 347.9,15.5 361.4,20 374.9,15.5 388.4,13.3 401.9,15.5 415.4,15.5 428.8,19 442.3,19 455.8,15.5 469.3,12.8 482.8,15.5 496.3,15.5 509.8,15.5 523.3,15.5 536.8,15.5"/>
<path fill="#0f0" d="M64.5 389l4.3 7.8h-8.6zM78 342.1l4.3 7.8h-8.6zM91.5 303.4l4.3 7.8h-8.6zM105 283.7l4.3 7.8h-8.6zM118.5 257.4l4.3 7.8h-8.6zM132 230.4l4.3 7.8h-8.6zM145.5 183.9l4.3 7.8h-8.6zM159 156.9l4.3 7.8h-8.6zM172.5 129.9l4.3 7.8h-8.6zM185.9 103.4l4.3 7.8h-8.6zM199.4 68.4l4.3 7.8h-8.6zM212.9 29.9l4.3 7.8h-8.6zM226.4 17.9l4.3 7.8h-8.6zM239.9 10.9l4.3 7.8h-8.6zM253.4 17.9l4.3 7.8h-8.6zM266.9 15.4l4.3 7.8h-8.6zM280.4 15.4l4.3 7.8h-8.6zM293.9 8.7l4.3 7.8h-8.6zM307.4 8.7l4.3 7.8h-8.6zM320.9 8.7l4.3 7.8h-8.6zM334.4 8.7l4.3 7.8h-8.6zM347.9 10.9l4.3 7.8h-8.6zM361.4 15.4l4.3 7.8h-8.6zM374.9 10.9l4.3 7.8h-8.6zM388.4 8.7l4.3 7.8h-8.6zM401.9 10.9l4.3 7.8h-8.6zM415.4 10.9l4.3 7.8h-8.6zM428.8 14.4l4.3 7.8h-8.6zM442.3 14.4l4.3 7.8h-8.6zM455.8 10.9l4.3 7.8h-8.6zM469.3 8.2l4.3 7.8h-8.6zM482.8 10.9l4.3 7.8h-8.6zM496.3 10.9l4.3 7.8h-8.6zM509.8 10.9l4.3 7.8h-8.6zM523.3 10.9l4.3 7.8h-8.6zM536.8 10.9l4.3 7.8h-8.6z"/>
</g>
<!-- frame -->
<path d="M64.5 11.3H536.8" stroke="#000" stroke-width="1.3" fill="none"/>
<path d="M536.8 11.3V396.2" stroke="#555" stroke-width="1.2" fill="none"/>
<path d="M64.5 10.8V397.1M63.6 396.2H537.4" stroke="#111" stroke-width="1.8" fill="none"/>
<path d="M64.5 396.2h-8M64.5 357.7h-4M64.5 319.2h-8M64.5 280.7h-4M64.5 242.2h-8M64.5 203.8h-4M64.5 165.3h-8M64.5 126.8h-4M64.5 88.3h-8M64.5 49.8h-4M64.5 11.3h-8M64.5 396.2v8M132 396.2v4M199.4 396.2v8M266.9 396.2v4M334.4 396.2v8M401.9 396.2v4M469.3 396.2v8M536.8 396.2v4" stroke="#111" stroke-width="1.5" fill="none"/>
<g font-size="14"><text x="52.9" y="399.9" text-anchor="end">0</text><text x="52.9" y="322.9" text-anchor="end">20</text><text x="52.9" y="245.9" text-anchor="end">40</text><text x="52.9" y="169" text-anchor="end">60</text><text x="52.9" y="92" text-anchor="end">80</text><text x="52.9" y="15" text-anchor="end">100</text><text x="64.5" y="419.9" text-anchor="middle">0.0</text><text x="199.4" y="419.9" text-anchor="middle">0.2</text><text x="334.4" y="419.9" text-anchor="middle">0.4</text><text x="469.3" y="419.9" text-anchor="middle">0.6</text></g>
<text x="301.5" y="447.6" text-anchor="middle" font-size="17.4">Time (ns)</text>
<text transform="translate(17.3 213.4) rotate(-90)" text-anchor="middle" font-size="17.6">Meniscus Position (A)</text>
</svg>
</body></html>
